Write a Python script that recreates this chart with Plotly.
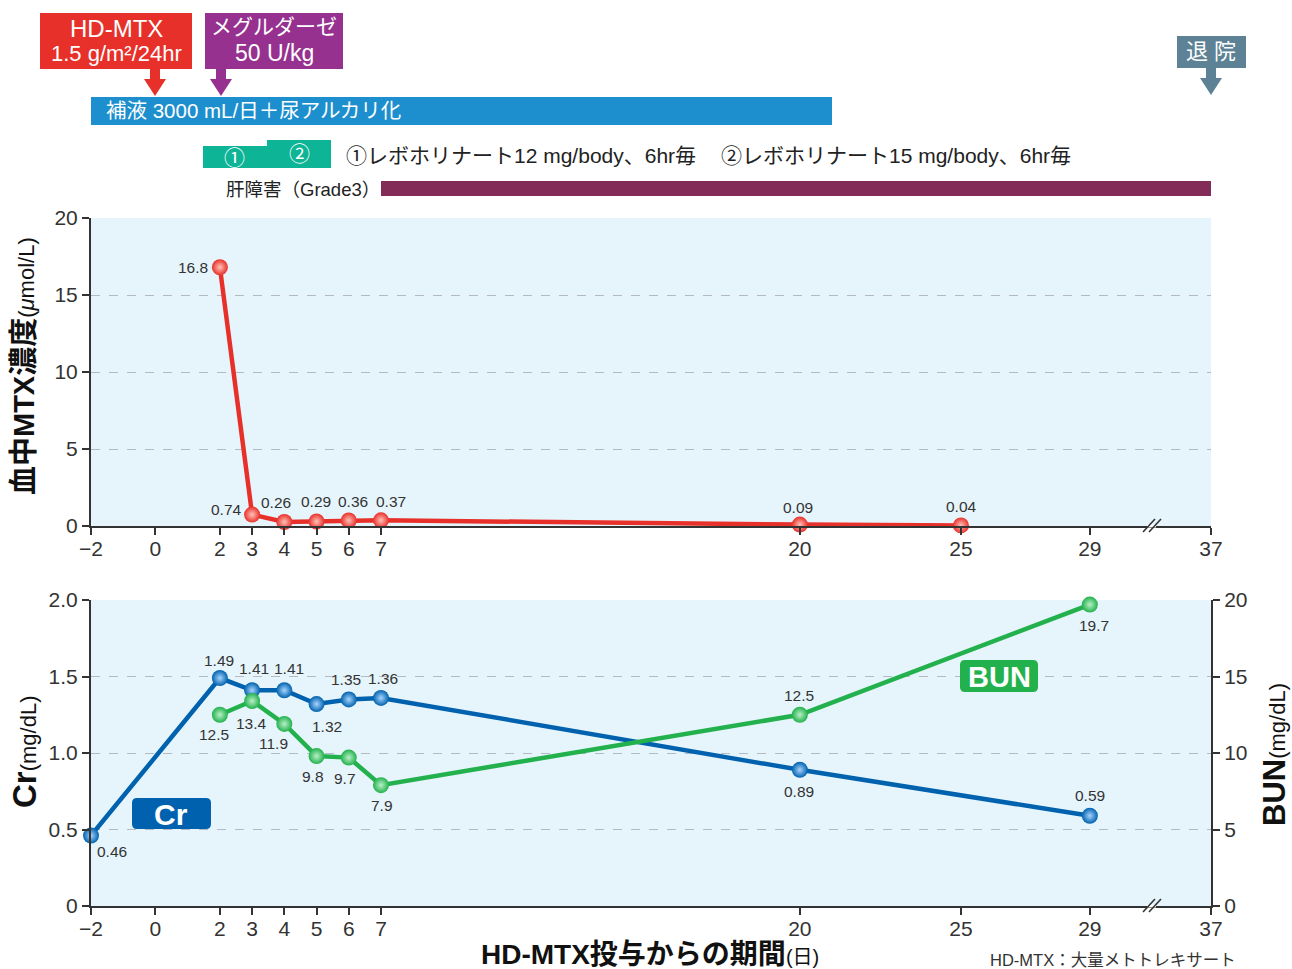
import plotly.graph_objects as go

# the page body margin is removed (see post_script), so the figure fills the window
OFF = 0
W, H = 1292, 969

# ---------------- data ----------------
x_tick_days = [-2, 0, 2, 3, 4, 5, 6, 7, 20, 25, 29, 37]
x_tick_text = ["\u22122", "0", "2", "3", "4", "5", "6", "7", "20", "25", "29", "37"]
X37_POS = 32.76  # axis position of the broken-axis tick "37"

mtx_days = [2, 3, 4, 5, 6, 7, 20, 25]
mtx_vals = [16.8, 0.74, 0.26, 0.29, 0.36, 0.37, 0.09, 0.04]

cr_days = [-2, 2, 3, 4, 5, 6, 7, 20, 29]
cr_vals = [0.46, 1.49, 1.41, 1.41, 1.32, 1.35, 1.36, 0.89, 0.59]

bun_days = [2, 3, 4, 5, 6, 7, 20, 29]
bun_vals = [12.5, 13.4, 11.9, 9.8, 9.7, 7.9, 12.5, 19.7]

# label offsets (px) from each point: styling only
mtx_lbl_shift = [(-27, 0), (-26, 5), (-8, 20), (-1, 20), (4, 19), (10, 19), (-2, 17), (1, 19)]
cr_lbl_shift = [(21, -16), (-1, 18), (2, 22), (5, 22), (10, -22), (-3, 20), (2, 19), (-1, -22), (0, 20)]
bun_lbl_shift = [(-6, -20), (-1, -23), (-11, -20), (-4, -20), (-4, -21), (1, -20), (-1, 19), (4, -21)]

RED = "#e8302a"
BLUE = "#0062ae"
GREEN = "#22b14c"
BG = "#e6f5fc"
TXT = "#333333"
FONT = "Liberation Sans, Noto Sans CJK JP"


def px(x):
    return (x - OFF) / W


def py(y):
    return 1 - (y - OFF) / H


fig = go.Figure()
annots = []
shapes = []


def add_series(x, y, color, glow, shifts, xa, ya, fmt):
    fig.add_trace(go.Scatter(
        x=x, y=y, xaxis=xa, yaxis=ya, mode="lines+markers",
        line=dict(color=color, width=4.5),
        marker=dict(size=16, color=color, line=dict(width=0),
                    gradient=dict(type="radial", color=glow)),
        cliponaxis=False, showlegend=False, hoverinfo="x+y"))
    for xv, yv, (dx, dy) in zip(x, y, shifts):
        annots.append(dict(xref=xa, yref=ya, x=xv, y=yv, text=fmt(yv), showarrow=False,
                           xshift=dx, yshift=dy, xanchor="center", yanchor="middle",
                           font=dict(size=15.5, color=TXT, family=FONT)))


add_series(mtx_days, mtx_vals, RED, "#ffc2b8", mtx_lbl_shift, "x", "y", lambda v: f"{v:g}")
add_series(bun_days, bun_vals, GREEN, "#b8f0c8", bun_lbl_shift, "x2", "y3", lambda v: f"{v:.1f}")
add_series(cr_days, cr_vals, BLUE, "#a8d4ff", cr_lbl_shift, "x2", "y2", lambda v: f"{v:.2f}")

tickvals = [d if d != 37 else X37_POS for d in x_tick_days]

xa_common = dict(
    domain=[px(91), px(1211)], range=[-2, X37_POS], tickvals=tickvals, ticktext=x_tick_text,
    ticks="outside", ticklen=7, tickwidth=1.5, tickcolor=TXT, showline=True, linecolor=TXT,
    linewidth=2, showgrid=False, zeroline=False, automargin=False, ticklabelstandoff=-4,
    tickfont=dict(size=21, color=TXT, family=FONT),
)
ya_common = dict(
    ticks="outside", ticklen=7, tickwidth=1.5, tickcolor=TXT, showline=True, linecolor=TXT,
    linewidth=2, showgrid=True, gridcolor="#b5b9c4", griddash="dash", gridwidth=1,
    zeroline=False, automargin=False, tickfont=dict(size=21, color=TXT, family=FONT),
)

fig.update_layout(
    width=W, height=H,
    margin=dict(l=0, r=0, t=0, b=0, pad=0, autoexpand=False),
    paper_bgcolor="white", plot_bgcolor=BG,
    font=dict(family=FONT, color=TXT),
    xaxis=dict(anchor="y", **xa_common),
    xaxis2=dict(anchor="y2", **xa_common),
    yaxis=dict(anchor="x", domain=[py(526), py(218)], range=[0, 20],
               tickvals=[0, 5, 10, 15, 20], ticktext=["0", "5", "10", "15", "20"], **ya_common),
    yaxis2=dict(anchor="x2", domain=[py(906), py(600)], range=[0, 2],
                tickvals=[0, 0.5, 1, 1.5, 2], ticktext=["0", "0.5", "1.0", "1.5", "2.0"],
                **ya_common),
    yaxis3=dict(anchor="x2", overlaying="y2", side="right", range=[0, 20],
                tickvals=[0, 5, 10, 15, 20], ticktext=["0", "5", "10", "15", "20"],
                ticks="outside", ticklen=7, tickwidth=1.5, tickcolor=TXT, showline=True,
                linecolor=TXT, linewidth=2, showgrid=False, zeroline=False, automargin=False,
                tickfont=dict(size=21, color=TXT, family=FONT)),
)


def rect(x0, y0, x1, y1, color):
    shapes.append(dict(type="rect", xref="paper", yref="paper", x0=px(x0), x1=px(x1),
                       y0=py(y1), y1=py(y0), fillcolor=color, line=dict(width=0),
                       layer="above"))


def rrect(x0, y0, x1, y1, r, color):
    pts = (f"M {px(x0 + r)},{py(y0)} L {px(x1 - r)},{py(y0)} Q {px(x1)},{py(y0)} {px(x1)},{py(y0 + r)} "
           f"L {px(x1)},{py(y1 - r)} Q {px(x1)},{py(y1)} {px(x1 - r)},{py(y1)} "
           f"L {px(x0 + r)},{py(y1)} Q {px(x0)},{py(y1)} {px(x0)},{py(y1 - r)} "
           f"L {px(x0)},{py(y0 + r)} Q {px(x0)},{py(y0)} {px(x0 + r)},{py(y0)} Z")
    shapes.append(dict(type="path", xref="paper", yref="paper", path=pts,
                       fillcolor=color, line=dict(width=0), layer="above"))


def arrow(cx, ytop, color):
    pts = (f"M {px(cx - 5)},{py(ytop)} L {px(cx + 5)},{py(ytop)} L {px(cx + 5)},{py(ytop + 10)} "
           f"L {px(cx + 11)},{py(ytop + 10)} L {px(cx)},{py(ytop + 27)} L {px(cx - 11)},{py(ytop + 10)} "
           f"L {px(cx - 5)},{py(ytop + 10)} Z")
    shapes.append(dict(type="path", xref="paper", yref="paper", path=pts,
                       fillcolor=color, line=dict(width=0), layer="above"))


def text(x, y, s, size, color=TXT, xanchor="center", angle=0, yanchor="middle"):
    annots.append(dict(xref="paper", yref="paper", x=px(x), y=py(y), text=s, showarrow=False,
                       xanchor=xanchor, yanchor=yanchor, textangle=angle, borderpad=0,
                       font=dict(size=size, color=color, family=FONT)))


# top annotation boxes
rect(40, 13, 192, 69, "#e8302a")
text(116, 28, "HD-MTX", 24, "white")
text(116, 54, "1.5 g/m²/24hr", 22, "white")
arrow(155, 69, "#e8302a")

rect(205, 13, 343, 69, "#96318f")
text(274, 27, "メグルダーゼ", 21, "white")
text(274, 53, "50 U/kg", 23, "white")
arrow(221, 69, "#96318f")

rect(1177, 36, 1246, 68, "#5e8295")
text(1211, 52, "退 院", 22, "white")
arrow(1211, 68, "#5e8295")

rect(91, 97, 832, 125, "#1e8fce")
text(105, 111, "補液 3000 mL/日＋尿アルカリ化", 20.5, "white", xanchor="left")

rect(203, 146, 268, 168, "#0db495")
rect(267, 140, 331, 168, "#0db495")
text(234, 158, "①", 21, "white")
text(299, 154, "②", 21, "white")
text(345, 155, "①レボホリナート12 mg/body、6hr毎", 21, "#222222", xanchor="left")
text(720, 155, "②レボホリナート15 mg/body、6hr毎", 21, "#222222", xanchor="left")

text(225, 189, "肝障害（Grade3）", 18.5, "#222222", xanchor="left")
rect(381, 181, 1211, 196, "#832c57")

# series name boxes
rrect(132, 798, 211, 829, 5, BLUE)
text(171, 814, "<b>Cr</b>", 30, "white")
rrect(960, 660, 1038, 692, 5, GREEN)
text(999, 677, "<b>BUN</b>", 29, "white")

# axis break marks
for yb in (526, 906):
    shapes.append(dict(type="line", xref="paper", yref="paper", x0=px(1147), x1=px(1156),
                       y0=py(yb), y1=py(yb), line=dict(color="white", width=3), layer="above"))
    for dx in (0, 6):
        shapes.append(dict(type="line", xref="paper", yref="paper",
                           x0=px(1143 + dx), y0=py(yb + 6), x1=px(1155 + dx), y1=py(yb - 7),
                           line=dict(color=TXT, width=1.6), layer="above"))

# axis titles
text(24, 366, "<b>血中MTX濃度</b><span style='font-size:22px'>(<i>μ</i>mol/L)</span>", 29, "#111111", angle=-90)
text(24, 752, "<b>Cr</b><span style='font-size:22px'>(mg/dL)</span>", 33, "#111111", angle=-90)
text(1274, 755, "<b>BUN</b><span style='font-size:22px'>(mg/dL)</span>", 31, "#111111", angle=-90)
text(650, 954, "<b>HD-MTX投与からの期間</b><span style='font-size:20px'>(日)</span>", 28, "#111111")
text(1237, 960, "HD-MTX：大量メトトレキサート", 16.5, "#333333", xanchor="right")

fig.update_layout(shapes=shapes, annotations=annots)

fig.write_html(
    "out.html",
    config={"displayModeBar": False},
    post_script="document.body.style.margin='0';document.body.style.overflow='hidden';",
)
